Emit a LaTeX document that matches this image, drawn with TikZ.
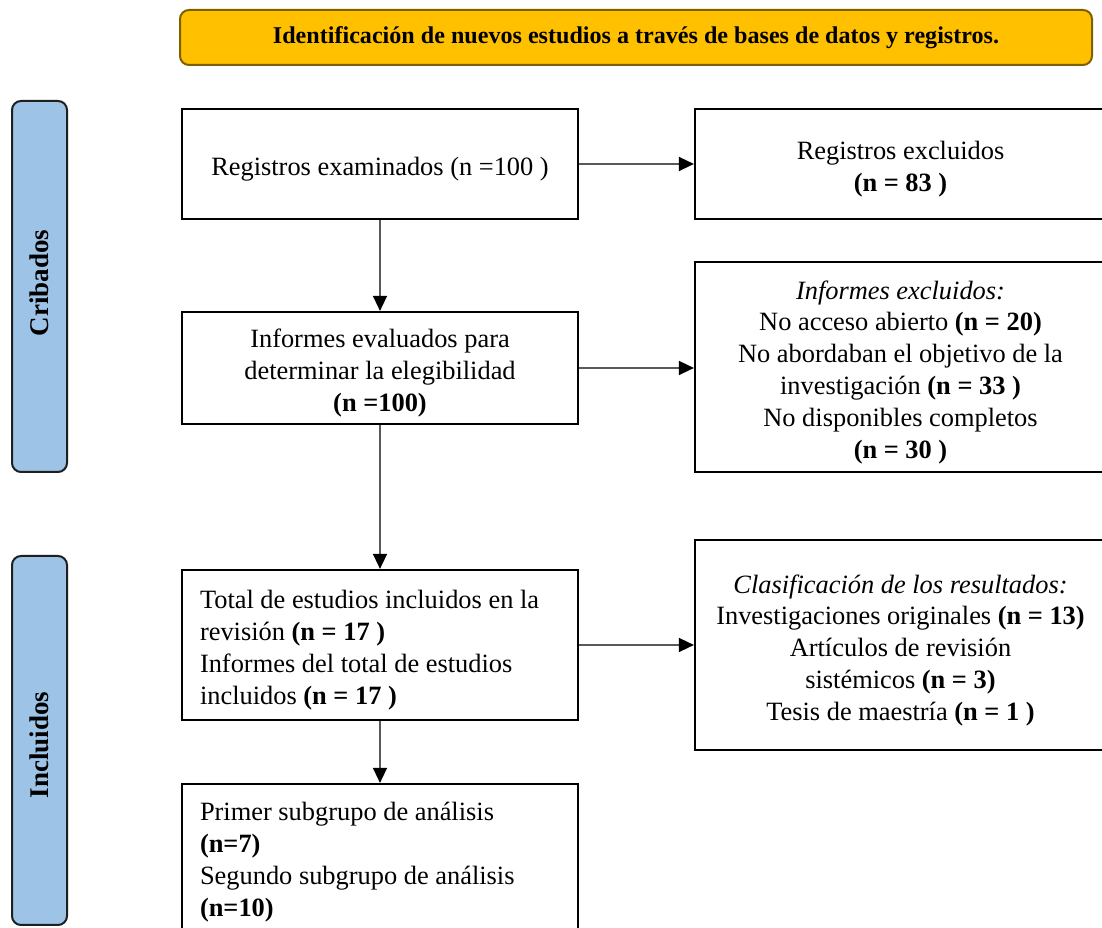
\documentclass[tikz,border=0pt]{standalone}
\usepackage{fontspec}
\setmainfont{Liberation Serif}
\usetikzlibrary{arrows.meta}
\definecolor{bannerfill}{HTML}{FFC000}
\definecolor{bannerdraw}{HTML}{7F6000}
\definecolor{barfill}{HTML}{9DC3E6}
\definecolor{bardraw}{HTML}{1F1F1F}
\definecolor{arrowgray}{HTML}{595959}
\newcommand\lift{\rule{0pt}{29pt}}
\tikzset{
  flowbox/.style={draw=black, line width=2.2pt, fill=white, inner sep=0pt,
    align=center, font=\fontsize{26.4}{31.8}\selectfont},
  leftbox/.style={flowbox, align=flush left, inner xsep=18pt, text width=360pt},
  sidebar/.style={draw=bardraw, line width=2pt, fill=barfill, rounded corners=9pt,
    minimum width=55pt, inner sep=0pt},
  sidelabel/.style={rotate=90, font=\fontsize{27}{30}\selectfont\bfseries},
  banner/.style={draw=bannerdraw, line width=2pt, fill=bannerfill, rounded corners=9pt,
    minimum width=912pt, minimum height=55pt, inner sep=0pt,
    font=\fontsize{24.1}{28}\selectfont\bfseries},
  flowarrow/.style={draw=arrowgray, line width=1.5pt,
    -{Triangle[length=15pt,width=14pt,color=black]}}
}
\begin{document}
\begin{tikzpicture}[x=1pt,y=1pt]
\useasboundingbox (0,0) rectangle (1102,928);
\clip (0,0) rectangle (1102,928);
\fill[white] (0,0) rectangle (1102,928);

\node[banner] (ban) at (636,890.5) {Identificación de nuevos estudios a través de bases de datos y registros.};

\node[sidebar, minimum height=371pt] (crib) at (39.5,641.5) {};
\node[sidebar, minimum height=369pt] (incl) at (39.5,187.5) {};
\node[sidelabel] (cribt) at (39.5,645) {Cribados};
\node[sidelabel] (inclt) at (39.5,183) {Incluidos};

\node[flowbox, minimum width=396pt, minimum height=110pt] (b1) at (380,764)
  {\lift Registros examinados (n =100 )};
\node[flowbox, minimum width=411pt, minimum height=110pt] (b2) at (900.5,764)
  {\lift Registros excluidos\\ \textbf{(n = 83 )}};
\node[flowbox, minimum width=396pt, minimum height=112pt] (b3) at (380,560)
  {\lift Informes evaluados para\\ determinar la elegibilidad\\ \textbf{(n =100)}};
\node[flowbox, minimum width=411pt, minimum height=210pt] (b4) at (900.5,561)
  {\lift\textit{Informes excluidos:}\\ No acceso abierto \textbf{(n = 20)}\\ No abordaban el objetivo de la\\ investigación \textbf{(n = 33 )}\\ No disponibles completos\\ \textbf{(n = 30 )}};
\node[leftbox, minimum height=150pt] (b5) at (380,283)
  {\lift Total de estudios incluidos en la\\ revisión \textbf{(n = 17 )}\\ Informes del total de estudios\\ incluidos \textbf{(n = 17 )}};
\node[flowbox, minimum width=411pt, minimum height=210pt] (b6) at (900.5,283)
  {\lift\textit{Clasificación de los resultados:}\\ Investigaciones originales \textbf{(n = 13)}\\ Artículos de revisión\\ sistémicos \textbf{(n = 3)}\\ Tesis de maestría \textbf{(n = 1 )}};
\node[leftbox, minimum height=146pt] (b7) at (380,71)
  {\lift Primer subgrupo de análisis\\ \textbf{(n=7)}\\ Segundo subgrupo de análisis\\ \textbf{(n=10)}};

\draw[flowarrow] (b1.east) -- (b1.east -| b2.west);
\draw[flowarrow] (b1.south) -- (b3.north);
\draw[flowarrow] (b3.east) -- (b3.east -| b4.west);
\draw[flowarrow] (b3.south) -- (b5.north);
\draw[flowarrow] (b5.east) -- (b5.east -| b6.west);
\draw[flowarrow] (b5.south) -- (b7.north);
\end{tikzpicture}
\end{document}
